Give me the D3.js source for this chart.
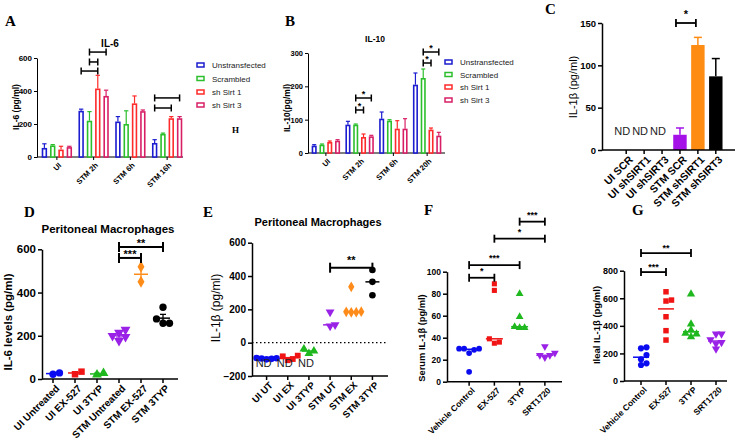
<!DOCTYPE html>
<html><head><meta charset="utf-8">
<script src="https://cdn.jsdelivr.net/npm/d3@7"></script>
<style>
body{margin:0;background:#fff;}
svg{display:block;}
</style></head><body>
<svg id="c" width="735" height="444"></svg>
<script>
// ---------------- DATA ----------------
const groupsA = ["UI", "STM 2h", "STM 6h", "STM 16h"];
const groupsB = ["UI", "STM 2h", "STM 6h", "STM 20h"];
const seriesAB = ["Unstransfected", "Scrambled", "sh Sirt 1", "sh Sirt 3"];
const il6Mean = [[55,70,45,60],[280,220,415,370],[215,200,325,278],[85,140,235,235]];
const il6Sem  = [[25,5,20,5],[10,55,80,35],[30,80,45,7],[20,5,10,10]];
const il10Mean = [[22,25,33,37],[85,85,48,50],[103,97,73,73],[205,225,70,52]];
const il10Sem  = [[3,2,3,3],[10,2,9,3],[20,3,24,30],[35,27,5,10]];
const ticksA = [0,200,400,600];
const ticksB = [0,100,200,300];
// brackets: [group, fromSeries, toSeries, label, yValue]
const bracketsA = [["STM 2h","Unstransfected","sh Sirt 1","",521],["STM 2h","Scrambled","sh Sirt 1","",576],["STM 2h","Scrambled","sh Sirt 3","",636],
                   ["STM 16h","Unstransfected","sh Sirt 3","",358],["STM 16h","Unstransfected","sh Sirt 1","",297]];
const bracketsB = [["STM 2h","Scrambled","sh Sirt 3","*",165],["STM 2h","Scrambled","sh Sirt 1","*",129],
                   ["STM 20h","Scrambled","sh Sirt 3","*",303],["STM 20h","Scrambled","sh Sirt 1","*",270]];

const catsC = ["UI SCR","UI shSIRT1","UI shSIRT3","STM SCR","STM shSIRT1","STM shSIRT3"];
const il1bC = [null,null,null,18,124,87];
const il1bCSem = [null,null,null,8,9,21];
const ticksC = [0,50,100,150];
const bracketsC = [["STM SCR","STM shSIRT1","*",150]];

const catsD = ["UI Untreated","UI EX-527","UI 3TYP","STM Untreated","STM EX-527","STM 3TYP"];
const il6D = [[22,28],[22,34],[20,27],[177,195,200,215,228],[450,519],[332,278,258,258]];
const ticksD = [0,200,400,600];
const bracketsD = [["STM Untreated","STM EX-527","***",560],["STM Untreated","STM 3TYP","**",611]];

const catsE = ["UI UT","UI EX","UI 3TYP","STM UT","STM EX","STM 3TYP"];
const il1bE = [[-100,-97,-95,-93,-92],[-105,-98,-82,-78],[-65,-38,-50],[184,99,107],[182,183,185,186,335],[436,365,285]];
const ticksE = [-200,0,200,400,600];
const bracketsE = [["STM UT","STM 3TYP","**",450]];

const catsFG = ["Vehicle Control","EX-527","3TYP","SRT1720"];
const serumF = [[30,30,29,30,26,9],[89,83,39,36,35],[80,59,50,49,49],[32,26,22,24,24]];
const ticksF = [0,20,40,60,80,100];
const bracketsF = [["Vehicle Control","EX-527","*",94.5],["Vehicle Control","3TYP","***",106],["EX-527","SRT1720","*",130],["3TYP","SRT1720","***",145.5]];
const ilealG = [[237,244,188,157,128,116],[647,587,580,466,365,297],[631,413,321,340,345,370],[341,341,300,280,232,270]];
const ticksG = [0,200,400,600,800];
const bracketsG = [["Vehicle Control","EX-527","***",790],["Vehicle Control","3TYP","**",928]];

// ---------------- STYLE ----------------
const FONT = '"Liberation Sans", Arial, sans-serif';
const SERIF = '"Liberation Serif", "Times New Roman", serif';
const barColors = ["#1c1cd0","#2cbf2c","#ff2a2a","#d81f66"];
const dotColors = ["#0b0bf0","#f01414","#1fb81f","#9a22e6","#ff8c1a","#000000"];
const dotSymbols = [d3.symbolCircle, d3.symbolSquare, d3.symbolTriangle, "down", d3.symbolDiamond, d3.symbolCircle];

const svg = d3.select("#c");

function txt(x, y, s, fs, opt = {}) {
  const t = svg.append("text").attr("x", x).attr("y", y).text(s)
    .attr("font-family", opt.family || FONT).attr("font-size", fs)
    .attr("font-weight", opt.weight || "bold").attr("fill", opt.fill || "#000")
    .attr("text-anchor", opt.anchor || "start");
  return t;
}
function vtxt(x, y, s, fs, opt = {}) {
  return svg.append("text").attr("transform", `translate(${x},${y}) rotate(-90)`).text(s)
    .attr("font-family", FONT).attr("font-size", fs).attr("font-weight", opt.weight || "bold")
    .attr("text-anchor", "middle").attr("fill", "#000");
}
function line(x1, y1, x2, y2, sw, col = "#000", dash = null) {
  const l = svg.append("line").attr("x1", x1).attr("y1", y1).attr("x2", x2).attr("y2", y2)
    .attr("stroke", col).attr("stroke-width", sw);
  if (dash) l.attr("stroke-dasharray", dash);
  return l;
}
function yAxis(x0, y, ticks, o) {
  const g = svg.append("g").attr("transform", `translate(${x0},0)`)
    .call(d3.axisLeft(y).tickValues(ticks).tickSize(o.tick).tickPadding(o.pad).tickSizeOuter(0));
  g.select(".domain").attr("stroke-width", o.sw);
  g.selectAll(".tick line").attr("stroke-width", o.sw);
  g.selectAll(".tick text").attr("font-size", o.fs).attr("font-weight", "bold")
    .attr("font-family", FONT).attr("fill", "#000");
}
function xAxis(yPix, x0, x1, pos, labels, o) {
  line(x0, yPix, x1, yPix, o.sw);
  pos.forEach((p, i) => {
    line(p, yPix, p, yPix + o.tick, o.sw);
    svg.append("text").attr("transform", `translate(${p + (o.dx || 0)},${yPix + o.tick + o.pad}) rotate(-45)`)
      .attr("text-anchor", "end").attr("dy", "0.72em").text(labels[i])
      .attr("font-family", FONT).attr("font-size", o.fs).attr("font-weight", "bold").attr("fill", "#000");
  });
}
function bracket(x1, x2, yPix, label, o) {
  line(x1, yPix, x2, yPix, o.sw);
  line(x1, yPix - o.cap, x1, yPix + o.cap, o.sw);
  line(x2, yPix - o.cap, x2, yPix + o.cap, o.sw);
  if (label) txt((x1 + x2) / 2, yPix - o.gap, label, o.fs, {anchor: "middle"});
}

// ---------------- GROUPED BAR PANELS (A, B) ----------------
function barPanel(p) {
  const y = d3.scaleLinear().domain(p.ydom).range(p.yrange);
  const xg = d3.scaleBand().domain(p.groups).range(p.xrange);
  const xs = d3.scaleBand().domain(seriesAB).range(p.inner).paddingInner(0.35).paddingOuter(0.1);
  const bc = (g, s) => xg(g) + xg.bandwidth() / 2 + xs(s) + xs.bandwidth() / 2;
  yAxis(p.axisX, y, p.ticks, {tick: 3, pad: 2, fs: p.tickFs, sw: 1});
  xAxis(p.yrange[0], p.axisX, p.axisEnd, p.groups.map(g => xg(g) + xg.bandwidth() / 2), p.groups,
        {tick: 3, pad: 2, fs: p.xFs, sw: 1, dx: 1});
  const w = xs.bandwidth();
  p.groups.forEach((g, gi) => seriesAB.forEach((s, si) => {
    const v = p.means[gi][si], e = p.sems[gi][si], cx = bc(g, s);
    line(cx, y(v), cx, y(v + e), 1.2, barColors[si]);
    line(cx - w * 0.4, y(v + e), cx + w * 0.4, y(v + e), 1.2, barColors[si]);
    svg.append("rect").attr("x", cx - w / 2 + 0.8).attr("y", y(v) + 0.8)
      .attr("width", w - 1.6).attr("height", Math.max(0, y(0) - y(v) - 0.8))
      .attr("fill", "#fff").attr("stroke", barColors[si]).attr("stroke-width", 1.6);
  }));
  p.brackets.forEach(b => bracket(bc(b[0], b[1]), bc(b[0], b[2]), y(b[4]), b[3], {sw: 1.5, cap: 3.5, gap: 1.5, fs: 9}));
  // legend
  seriesAB.forEach((s, si) => {
    const ly = p.legendY[si];
    svg.append("rect").attr("x", p.legendX).attr("y", ly - 2).attr("width", 7).attr("height", 4)
      .attr("fill", "#fff").attr("stroke", barColors[si]).attr("stroke-width", 1.5);
    txt(p.legendX + 15, ly + 3, s, 8, {weight: "normal", fill: "#222"});
  });
}

barPanel({groups: groupsA, means: il6Mean, sems: il6Sem, ydom: [0, 600], yrange: [157, 58], ticks: ticksA,
  xrange: [38.5, 185.5], inner: [-16, 16], axisX: 37, axisEnd: 183, tickFs: 8, xFs: 7.5,
  brackets: bracketsA, legendX: 197, legendY: [65, 78.5, 92, 105]});
vtxt(18.5, 107, "IL-6 (pg/ml)", 8.5);
txt(110, 47, "IL-6", 10, {anchor: "middle"});

barPanel({groups: groupsB, means: il10Mean, sems: il10Sem, ydom: [0, 300], yrange: [153, 53], ticks: ticksB,
  xrange: [309, 444], inner: [-15, 15], axisX: 308, axisEnd: 445, tickFs: 7.5, xFs: 7.5,
  brackets: bracketsB, legendX: 445, legendY: [62, 74.5, 87, 100]});
vtxt(290, 108, "IL-10(pg/ml)", 8.5);
txt(375, 42, "IL-10", 8.5, {anchor: "middle"});

// ---------------- PANEL C ----------------
(function () {
  const y = d3.scaleLinear().domain([0, 150]).range([150, 23]);
  const x = d3.scaleBand().domain(catsC).range([615, 727]).padding(0.25);
  const cx = c => x(c) + x.bandwidth() / 2;
  const colsC = ["#000", "#000", "#000", "#a412e8", "#ff8c12", "#000"];
  catsC.forEach((c, i) => {
    const v = il1bC[i];
    if (v == null) {
      txt(cx(c) - 4, 135, "ND", 11, {anchor: "middle", weight: "normal", fill: "#222"});
      return;
    }
    const e = il1bCSem[i];
    line(cx(c), y(v), cx(c), y(v + e), 1.5, colsC[i]);
    line(cx(c) - 4, y(v + e), cx(c) + 4, y(v + e), 1.5, colsC[i]);
    svg.append("rect").attr("x", x(c)).attr("y", y(v)).attr("width", x.bandwidth())
      .attr("height", y(0) - y(v)).attr("fill", colsC[i]);
  });
  yAxis(602, y, ticksC, {tick: 4, pad: 2, fs: 9.5, sw: 1.5});
  xAxis(150, 602, 735, catsC.map(cx), catsC, {tick: 4, pad: 1, fs: 10.5, sw: 1.5, dx: 2});
  bracketsC.forEach(b => bracket(cx(b[0]) - 4, cx(b[1]) - 2, y(b[3]), b[2], {sw: 1.8, cap: 4, gap: 5, fs: 11}));
  vtxt(577, 87, "IL-1β (pg/ml)", 11, {weight: "normal"});
})();

// ---------------- SCATTER PANELS (D, E, F, G) ----------------
function swarm(vals, y, d) {
  const idx = vals.map((v, i) => i).sort((a, b) => vals[a] - vals[b]);
  const placed = [];
  const off = new Array(vals.length).fill(0);
  idx.forEach(i => {
    const py = y(vals[i]);
    for (let k = 0; k < 20; k++) {
      const dx = k === 0 ? 0 : (k % 2 ? 1 : -1) * Math.ceil(k / 2) * d;
      if (placed.every(q => Math.hypot(q[0] - dx, q[1] - py) >= d * 0.95)) {
        off[i] = dx; placed.push([dx, py]); break;
      }
    }
  });
  return off;
}
function symbolPath(sym, size) {
  if (sym === "down") return d3.symbol().type(d3.symbolTriangle).size(size)();
  return d3.symbol().type(sym).size(size)();
}
function scatterPanel(p) {
  const y = d3.scaleLinear().domain(p.ydom).range(p.yrange);
  const x = d3.scaleBand().domain(p.cats).range(p.xrange);
  const cx = c => x(c) + x.bandwidth() / 2;
  if (p.zeroLine) line(p.axisX, y(0), p.axisEnd, y(0), 1.2, "#000", "1.5,2.5");
  p.cats.forEach((c, i) => {
    const vals = p.data[i];
    const off = swarm(vals, y, p.spread);
    const col = dotColors[i], sym = dotSymbols[i];
    vals.forEach((v, j) => {
      svg.append("path").attr("d", symbolPath(sym, p.size))
        .attr("transform", `translate(${cx(c) + off[j]},${y(v)})` + (sym === "down" ? " rotate(180)" : ""))
        .attr("fill", col);
    });
    const ctr = p.center(vals);
    line(cx(c) - p.lineW / 2, y(ctr), cx(c) + p.lineW / 2, y(ctr), 1.5, p.lineCol ? p.lineCol(i) : col);
    if (p.sem && vals.length > 1) {
      const sem = d3.deviation(vals) / Math.sqrt(vals.length);
      const lc = p.lineCol ? p.lineCol(i) : col;
      line(cx(c), y(ctr - sem), cx(c), y(ctr + sem), 1.3, lc);
      line(cx(c) - 3, y(ctr - sem), cx(c) + 3, y(ctr - sem), 1.3, lc);
      line(cx(c) - 3, y(ctr + sem), cx(c) + 3, y(ctr + sem), 1.3, lc);
    }
  });
  yAxis(p.axisX, y, p.ticks, {tick: 4, pad: 2, fs: p.tickFs, sw: 1.5});
  xAxis(p.yrange[0], p.axisX, p.axisEnd, p.cats.map(cx), p.cats, {tick: 4, pad: 1, fs: p.xFs, sw: 1.5, dx: 2});
  p.brackets.forEach(b => bracket(cx(b[0]), cx(b[1]), y(b[3]), b[2], p.br));
  if (p.nd) p.nd.forEach(c => txt(cx(c) - 3, y(-200) - 9, "ND", 11, {anchor: "middle", weight: "normal", fill: "#222"}));
  return {x, y, cx};
}

scatterPanel({cats: catsD, data: il6D, ydom: [0, 600], yrange: [379, 249.3], ticks: ticksD,
  xrange: [42, 174], axisX: 42, axisEnd: 178, tickFs: 11.5, xFs: 10, size: 42, spread: 6.5, lineW: 14,
  center: d3.mean, sem: true, brackets: bracketsD, br: {sw: 2, cap: 5, gap: 0, fs: 11}});
txt(108, 233, "Peritoneal Macrophages", 11.5, {anchor: "middle"});
vtxt(11.5, 322, "IL-6 levels (pg/ml)", 11.5);

scatterPanel({cats: catsE, data: il1bE, ydom: [-200, 600], yrange: [376, 242.7], ticks: ticksE,
  xrange: [256, 383], axisX: 252, axisEnd: 388, tickFs: 10, xFs: 9.5, size: 34, spread: 5, lineW: 14,
  center: d3.median, zeroLine: true, nd: ["UI UT", "UI EX", "UI 3TYP"],
  lineCol: i => (i >= 3 ? (i === 5 ? "#000" : dotColors[i]) : dotColors[i]),
  brackets: bracketsE, br: {sw: 2, cap: 5, gap: 4, fs: 11}});
txt(318, 226, "Peritoneal Macrophages", 11, {anchor: "middle"});
vtxt(220, 308, "IL-1β (pg/ml)", 12, {weight: "normal"});

scatterPanel({cats: catsFG, data: serumF, ydom: [0, 100], yrange: [381.7, 271.7], ticks: ticksF,
  xrange: [456.5, 557.5], axisX: 447, axisEnd: 562, tickFs: 8.5, xFs: 8.5, size: 26, spread: 5, lineW: 17,
  center: d3.median, brackets: bracketsF, br: {sw: 1.8, cap: 4, gap: 4, fs: 9}});
vtxt(425, 338, "Serum IL-1β (pg/ml)", 9.3);

scatterPanel({cats: catsFG, data: ilealG, ydom: [0, 800], yrange: [381, 270.7], ticks: ticksG,
  xrange: [628.5, 728.5], axisX: 624, axisEnd: 727, tickFs: 9, xFs: 8.5, size: 30, spread: 5.5, lineW: 16,
  center: d3.median, brackets: bracketsG, br: {sw: 1.8, cap: 4, gap: 2, fs: 9}});
vtxt(600, 325, "Ileal IL-1β (pg/ml)", 9.5);

// ---------------- PANEL LETTERS ----------------
[["A", 5, 26], ["B", 285, 26], ["C", 545, 14], ["D", 24, 217], ["E", 203, 217], ["F", 424, 215], ["G", 632, 215]]
  .forEach(l => txt(l[1], l[2], l[0], 15, {family: SERIF}));
txt(232, 133, "H", 9, {family: SERIF});
</script>
</body></html>
